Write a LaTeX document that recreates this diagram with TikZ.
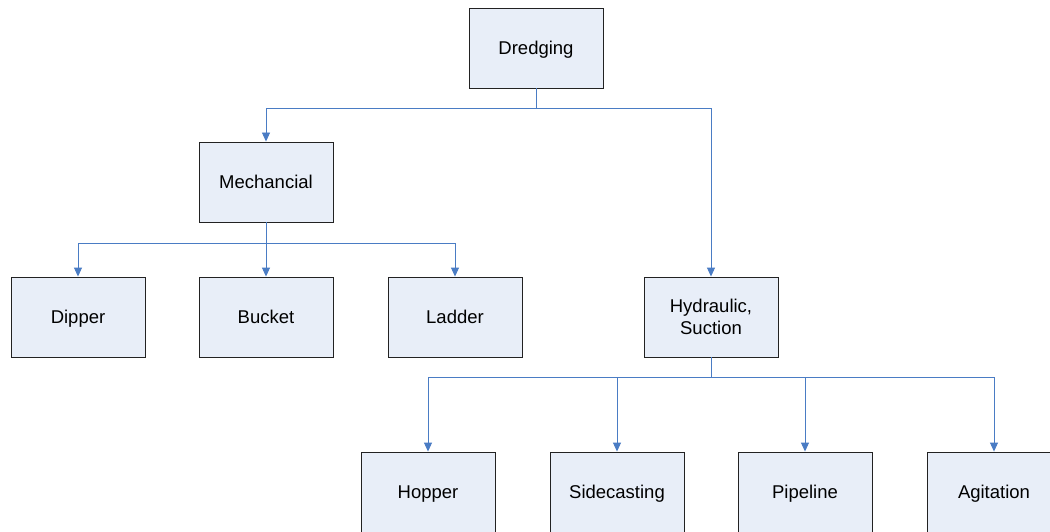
\documentclass[tikz,border=0pt]{standalone}
\usepackage{fontspec}
\setmainfont{Liberation Sans}
\usetikzlibrary{arrows.meta}
\definecolor{boxfill}{HTML}{E8EEF8}
\definecolor{boxline}{HTML}{222222}
\definecolor{link}{HTML}{4A7CC4}
\begin{document}
\begin{tikzpicture}[x=1pt,y=-1pt,
  box/.style={draw=boxline,fill=boxfill,line width=0.9pt,minimum width=134pt,minimum height=80pt,inner sep=0pt,align=center,font=\fontsize{18.5}{22}\selectfont},
  onebox/.style={box,text height=16pt,text depth=3pt},
  link/.style={draw=link,line width=0.9pt,-{Triangle[width=8pt,length=9pt]}}]
\clip (0,0) rectangle (1050,532);
\fill[white] (0,0) rectangle (1050,532);
\node[onebox] (dredging) at (536,48) {Dredging};
\node[onebox] (mech) at (266,182) {Mechancial};
\node[onebox] (dipper) at (78,317) {Dipper};
\node[onebox] (bucket) at (266,317) {Bucket};
\node[onebox] (ladder) at (455,317) {Ladder};
\node[box] (hyd) at (711,317) {Hydraulic,\\Suction};
\node[onebox] (hopper) at (428,492) {Hopper};
\node[onebox] (side) at (617,492) {Sidecasting};
\node[onebox] (pipe) at (805,492) {Pipeline};
\node[onebox] (agit) at (994,492) {Agitation};
\coordinate (b1) at (536,108);
\coordinate (b2) at (266,243);
\coordinate (b3) at (711,377);
\draw[link] (dredging.south) -- (b1) -| (mech.north);
\draw[link] (b1) -| (hyd.north);
\draw[link] (mech.south) -- (bucket.north);
\draw[link] (b2) -| (dipper.north);
\draw[link] (b2) -| (ladder.north);
\draw[link] (hyd.south) -- (b3) -| (hopper.north);
\draw[link] (b3) -| (side.north);
\draw[link] (b3) -| (pipe.north);
\draw[link] (b3) -| (agit.north);
\end{tikzpicture}
\end{document}
